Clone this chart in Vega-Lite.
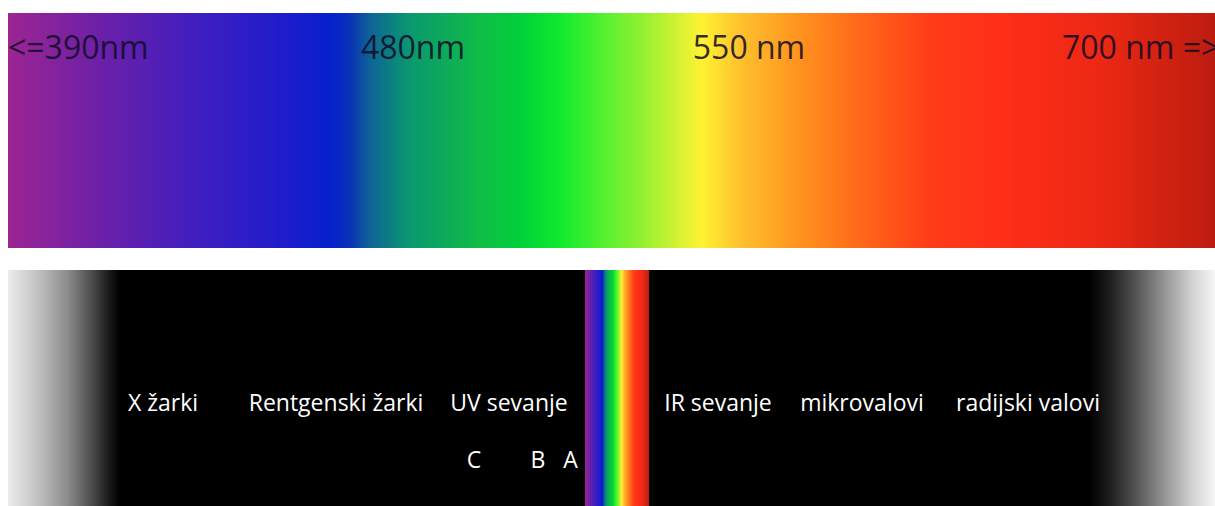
{
  "$schema": "https://vega.github.io/schema/vega-lite/v6.json",
  "width": 1215,
  "height": 506,
  "autosize": {"type": "fit", "contains": "padding"},
  "padding": 0,
  "background": "#ffffff",
  "config": {"view": {"stroke": null}},
  "datasets": {
    "spectrum": [
      {"band": "visible", "x": 8, "x2": 1215, "y": 13, "y2": 248},
      {"band": "visible-small", "x": 585, "x2": 649, "y": 270, "y2": 506}
    ],
    "dark": [
      {"band": "em", "x": 8, "x2": 1215, "y": 270, "y2": 506}
    ],
    "topLeft": [
      {"label": "<=390nm", "x": 8, "y": 59},
      {"label": "700 nm =>", "x": 1062, "y": 59}
    ],
    "topCenter": [
      {"label": "480nm", "x": 413, "y": 59},
      {"label": "550 nm", "x": 749, "y": 59}
    ],
    "bottom": [
      {"label": "X žarki", "x": 163, "y": 411},
      {"label": "Rentgenski žarki", "x": 336, "y": 411},
      {"label": "UV sevanje", "x": 509, "y": 411},
      {"label": "IR sevanje", "x": 718, "y": 411},
      {"label": "mikrovalovi", "x": 862, "y": 411},
      {"label": "radijski valovi", "x": 1028, "y": 411},
      {"label": "C", "x": 474, "y": 468},
      {"label": "B", "x": 538, "y": 468},
      {"label": "A", "x": 570.5, "y": 468}
    ]
  },
  "layer": [
    {
      "data": {"name": "dark"},
      "mark": {
        "type": "rect",
        "color": {
          "gradient": "linear", "x1": 0, "y1": 0, "x2": 1, "y2": 0,
          "stops": [
            {"offset": 0, "color": "#ececec"},
            {"offset": 0.027, "color": "#bdbdbd"},
            {"offset": 0.05, "color": "#8a8a8a"},
            {"offset": 0.07, "color": "#4a4a4a"},
            {"offset": 0.085, "color": "#151515"},
            {"offset": 0.093, "color": "#000000"},
            {"offset": 0.896, "color": "#000000"},
            {"offset": 0.912, "color": "#1c1c1c"},
            {"offset": 0.935, "color": "#555555"},
            {"offset": 0.96, "color": "#9a9a9a"},
            {"offset": 0.982, "color": "#d4d4d4"},
            {"offset": 1, "color": "#f6f6f6"}
          ]
        }
      },
      "encoding": {
        "x": {"field": "x", "type": "quantitative", "scale": {"domain": [0, 1215], "nice": false, "zero": false}, "axis": null},
        "x2": {"field": "x2"},
        "y": {"field": "y", "type": "quantitative", "scale": {"domain": [0, 506], "nice": false, "zero": false, "reverse": true}, "axis": null},
        "y2": {"field": "y2"}
      }
    },
    {
      "data": {"name": "spectrum"},
      "mark": {
        "type": "rect",
        "color": {
          "gradient": "linear", "x1": 0, "y1": 0, "x2": 1, "y2": 0,
          "stops": [
            {"offset": 0, "color": "#9c2592"},
            {"offset": 0.076, "color": "#6c20a8"},
            {"offset": 0.159, "color": "#3e1ec0"},
            {"offset": 0.234, "color": "#1c1ccc"},
            {"offset": 0.267, "color": "#0620cc"},
            {"offset": 0.284, "color": "#0a34b6"},
            {"offset": 0.3, "color": "#0e6496"},
            {"offset": 0.333, "color": "#0a9870"},
            {"offset": 0.39, "color": "#10bc46"},
            {"offset": 0.424, "color": "#00d03a"},
            {"offset": 0.457, "color": "#0eea2e"},
            {"offset": 0.49, "color": "#4ef030"},
            {"offset": 0.524, "color": "#90f032"},
            {"offset": 0.557, "color": "#d8f232"},
            {"offset": 0.575, "color": "#fff232"},
            {"offset": 0.607, "color": "#ffc02e"},
            {"offset": 0.656, "color": "#ff921e"},
            {"offset": 0.706, "color": "#ff681a"},
            {"offset": 0.764, "color": "#ff3c18"},
            {"offset": 0.822, "color": "#ff2e18"},
            {"offset": 0.905, "color": "#ec2814"},
            {"offset": 1, "color": "#bc1c10"}
          ]
        }
      },
      "encoding": {
        "x": {"field": "x", "type": "quantitative", "scale": {"domain": [0, 1215], "nice": false, "zero": false}, "axis": null},
        "x2": {"field": "x2"},
        "y": {"field": "y", "type": "quantitative", "scale": {"domain": [0, 506], "nice": false, "zero": false, "reverse": true}, "axis": null},
        "y2": {"field": "y2"}
      }
    },
    {
      "data": {"name": "topLeft"},
      "mark": {"type": "text", "align": "left", "baseline": "alphabetic", "font": "Open Sans", "fontSize": 32, "color": "#120c26", "opacity": 0.85, "clip": true},
      "encoding": {
        "x": {"field": "x", "type": "quantitative", "scale": {"domain": [0, 1215], "nice": false, "zero": false}, "axis": null},
        "y": {"field": "y", "type": "quantitative", "scale": {"domain": [0, 506], "nice": false, "zero": false, "reverse": true}, "axis": null},
        "text": {"field": "label"}
      }
    },
    {
      "data": {"name": "topCenter"},
      "mark": {"type": "text", "align": "center", "baseline": "alphabetic", "font": "Open Sans", "fontSize": 32, "color": "#120c26", "opacity": 0.85, "clip": true},
      "encoding": {
        "x": {"field": "x", "type": "quantitative", "scale": {"domain": [0, 1215], "nice": false, "zero": false}, "axis": null},
        "y": {"field": "y", "type": "quantitative", "scale": {"domain": [0, 506], "nice": false, "zero": false, "reverse": true}, "axis": null},
        "text": {"field": "label"}
      }
    },
    {
      "data": {"name": "bottom"},
      "mark": {"type": "text", "align": "center", "baseline": "alphabetic", "font": "Open Sans", "fontSize": 23, "color": "#ffffff", "clip": true},
      "encoding": {
        "x": {"field": "x", "type": "quantitative", "scale": {"domain": [0, 1215], "nice": false, "zero": false}, "axis": null},
        "y": {"field": "y", "type": "quantitative", "scale": {"domain": [0, 506], "nice": false, "zero": false, "reverse": true}, "axis": null},
        "text": {"field": "label"}
      }
    }
  ]
}
